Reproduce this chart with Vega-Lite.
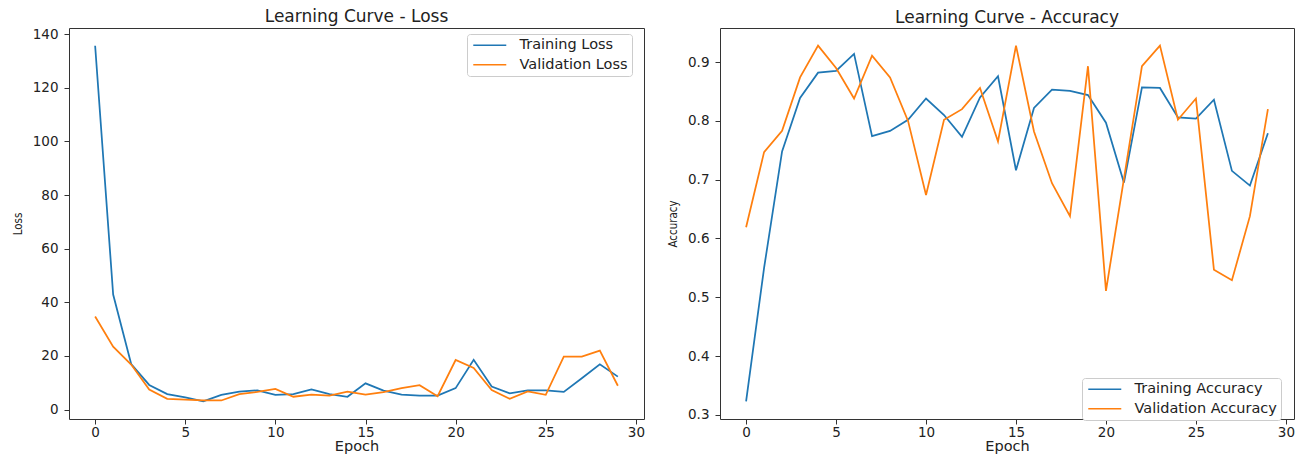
{
  "$schema": "https://vega.github.io/schema/vega-lite/v6.json",
  "padding": {"left": 11, "top": 7, "right": 4, "bottom": 4},
  "background": "white",
  "spacing": 22,
  "config": {
    "font": "DejaVu Sans",
    "view": {"stroke": "#333333", "strokeWidth": 1},
    "axis": {"grid": false, "domain": false, "tickColor": "#333333", "tickSize": 5, "labelFont": "DejaVu Sans", "labelFontSize": 13.5, "labelColor": "#222222", "titleFont": "DejaVu Sans", "titleFontWeight": "normal", "titleColor": "#222222"},
    "title": {"font": "DejaVu Sans", "fontSize": 17, "fontWeight": "normal", "color": "#222222", "offset": 1},
    "legend": {"orient": "none", "title": null, "symbolType": "M-0.83,0L4.67,0", "symbolSize": 144, "symbolStrokeWidth": 1.5, "labelFont": "DejaVu Sans", "labelFontSize": 14.5, "labelColor": "#222222", "strokeColor": "#cccccc", "fillColor": "white", "padding": 4, "cornerRadius": 3, "rowPadding": 4.5, "labelOffset": 34}
  },
  "datasets": {
    "hist": [
      {"epoch": 0, "train_loss": 135.7, "val_loss": 34.7, "train_acc": 0.323, "val_acc": 0.619},
      {"epoch": 1, "train_loss": 42.9, "val_loss": 23.5, "train_acc": 0.55, "val_acc": 0.747},
      {"epoch": 2, "train_loss": 17.0, "val_loss": 16.8, "train_acc": 0.748, "val_acc": 0.783},
      {"epoch": 3, "train_loss": 9.2, "val_loss": 7.5, "train_acc": 0.839, "val_acc": 0.874},
      {"epoch": 4, "train_loss": 5.8, "val_loss": 4.0, "train_acc": 0.882, "val_acc": 0.928},
      {"epoch": 5, "train_loss": 4.6, "val_loss": 3.7, "train_acc": 0.885, "val_acc": 0.890},
      {"epoch": 6, "train_loss": 3.1, "val_loss": 3.4, "train_acc": 0.914, "val_acc": 0.838},
      {"epoch": 7, "train_loss": 5.5, "val_loss": 3.4, "train_acc": 0.774, "val_acc": 0.911},
      {"epoch": 8, "train_loss": 6.7, "val_loss": 5.8, "train_acc": 0.783, "val_acc": 0.874},
      {"epoch": 9, "train_loss": 7.2, "val_loss": 6.6, "train_acc": 0.802, "val_acc": 0.800},
      {"epoch": 10, "train_loss": 5.5, "val_loss": 7.7, "train_acc": 0.838, "val_acc": 0.674},
      {"epoch": 11, "train_loss": 5.8, "val_loss": 4.8, "train_acc": 0.810, "val_acc": 0.802},
      {"epoch": 12, "train_loss": 7.5, "val_loss": 5.6, "train_acc": 0.773, "val_acc": 0.820},
      {"epoch": 13, "train_loss": 5.8, "val_loss": 5.2, "train_acc": 0.840, "val_acc": 0.856},
      {"epoch": 14, "train_loss": 4.8, "val_loss": 6.7, "train_acc": 0.876, "val_acc": 0.765},
      {"epoch": 15, "train_loss": 9.8, "val_loss": 5.6, "train_acc": 0.716, "val_acc": 0.928},
      {"epoch": 16, "train_loss": 7.1, "val_loss": 6.5, "train_acc": 0.822, "val_acc": 0.782},
      {"epoch": 17, "train_loss": 5.6, "val_loss": 8.0, "train_acc": 0.853, "val_acc": 0.694},
      {"epoch": 18, "train_loss": 5.2, "val_loss": 9.1, "train_acc": 0.851, "val_acc": 0.638},
      {"epoch": 19, "train_loss": 5.2, "val_loss": 5.0, "train_acc": 0.844, "val_acc": 0.893},
      {"epoch": 20, "train_loss": 8.0, "val_loss": 18.5, "train_acc": 0.797, "val_acc": 0.511},
      {"epoch": 21, "train_loss": 18.6, "val_loss": 15.5, "train_acc": 0.695, "val_acc": 0.702},
      {"epoch": 22, "train_loss": 8.6, "val_loss": 7.3, "train_acc": 0.857, "val_acc": 0.893},
      {"epoch": 23, "train_loss": 6.1, "val_loss": 4.0, "train_acc": 0.856, "val_acc": 0.928},
      {"epoch": 24, "train_loss": 7.2, "val_loss": 6.8, "train_acc": 0.806, "val_acc": 0.802},
      {"epoch": 25, "train_loss": 7.2, "val_loss": 5.5, "train_acc": 0.804, "val_acc": 0.838},
      {"epoch": 26, "train_loss": 6.6, "val_loss": 19.8, "train_acc": 0.836, "val_acc": 0.547},
      {"epoch": 27, "train_loss": 11.7, "val_loss": 19.8, "train_acc": 0.715, "val_acc": 0.529},
      {"epoch": 28, "train_loss": 16.9, "val_loss": 22.0, "train_acc": 0.690, "val_acc": 0.638},
      {"epoch": 29, "train_loss": 12.3, "val_loss": 8.9, "train_acc": 0.779, "val_acc": 0.820}
    ]
  },
  "hconcat": [
    {
      "width": 575,
      "height": 391,
      "title": "Learning Curve - Loss",
      "data": {"name": "hist"},
      "transform": [
        {"fold": ["train_loss", "val_loss"], "as": ["key", "value"]},
        {"calculate": "datum.key === 'train_loss' ? 'Training Loss' : 'Validation Loss'", "as": "series"}
      ],
      "mark": {"type": "line", "strokeWidth": 1.75},
      "encoding": {
        "x": {"field": "epoch", "type": "quantitative", "title": "Epoch",
              "scale": {"domain": [-1.45, 30.45], "nice": false, "zero": false},
              "axis": {"values": [0, 5, 10, 15, 20, 25, 30], "labelPadding": 1, "titleFontSize": 14.5, "titleY": 27, "titleBaseline": "middle"}},
        "y": {"field": "value", "type": "quantitative", "title": "Loss",
              "scale": {"domain": [-3.5, 142.3], "nice": false, "zero": false},
              "axis": {"values": [0, 20, 40, 60, 80, 100, 120, 140], "labelPadding": 6, "titleFontSize": 11.5, "titleFont": "DejaVu Sans Condensed, Liberation Sans Narrow, DejaVu Sans", "titlePadding": 9}},
        "color": {"field": "series", "type": "nominal",
                  "scale": {"domain": ["Training Loss", "Validation Loss"], "range": ["#1f77b4", "#ff7f0e"]},
                  "legend": {"legendX": 398, "legendY": 6}}
      }
    },
    {
      "width": 574,
      "height": 391,
      "title": "Learning Curve - Accuracy",
      "data": {"name": "hist"},
      "transform": [
        {"fold": ["train_acc", "val_acc"], "as": ["key", "value"]},
        {"calculate": "datum.key === 'train_acc' ? 'Training Accuracy' : 'Validation Accuracy'", "as": "series"}
      ],
      "mark": {"type": "line", "strokeWidth": 1.75},
      "encoding": {
        "x": {"field": "epoch", "type": "quantitative", "title": "Epoch",
              "scale": {"domain": [-1.45, 30.45], "nice": false, "zero": false},
              "axis": {"values": [0, 5, 10, 15, 20, 25, 30], "labelPadding": 1, "titleFontSize": 14.5, "titleY": 27, "titleBaseline": "middle"}},
        "y": {"field": "value", "type": "quantitative", "title": "Accuracy",
              "scale": {"domain": [0.293, 0.958], "nice": false, "zero": false},
              "axis": {"values": [0.3, 0.4, 0.5, 0.6, 0.7, 0.8, 0.9], "format": ".1f", "labelPadding": 6, "titleFontSize": 11.5, "titleFont": "DejaVu Sans Condensed, Liberation Sans Narrow, DejaVu Sans", "titlePadding": 9}},
        "color": {"field": "series", "type": "nominal",
                  "scale": {"domain": ["Training Accuracy", "Validation Accuracy"], "range": ["#1f77b4", "#ff7f0e"]},
                  "legend": {"legendX": 362, "legendY": 350}}
      }
    }
  ],
  "resolve": {"scale": {"color": "independent"}, "legend": {"color": "independent"}}
}
